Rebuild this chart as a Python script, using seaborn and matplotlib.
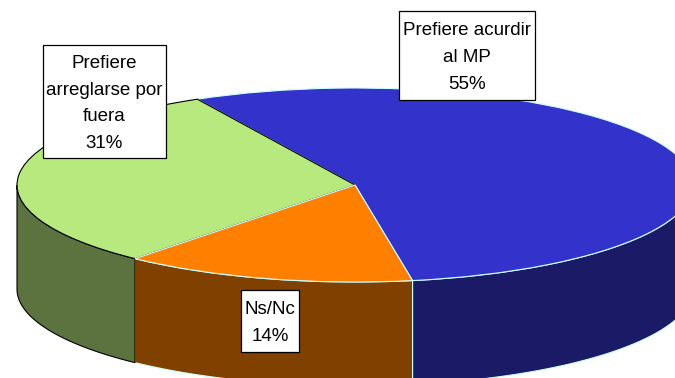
import numpy as np
import matplotlib
matplotlib.use('Agg')
import matplotlib.pyplot as plt
from matplotlib.patches import Rectangle
import seaborn as sns

# data (clockwise from the back of the pie)
labels = ['Prefiere acurdir\nal MP\n55%', 'Ns/Nc\n14%', 'Prefiere\narreglarse por\nfuera\n31%']
values = [55, 14, 31]
top_colors = ['#3333CC', '#FF8000', '#B8E97E']
side_colors = ['#1A1A66', '#804000', '#5C733F']
edge_colors = ['#CCFFFF', '#CCFFFF', '#000000']

sns.set_theme(style='white')
plt.rcParams['font.family'] = ['Liberation Sans', 'DejaVu Sans']

W, H = 675, 378
fig = plt.figure(figsize=(W / 100, H / 100), dpi=100)
ax = fig.add_axes([0, 0, 1, 1])

# ellipse geometry in pixels
cx, cy, rx, ry = 355, 185, 338, 97
depth = 104 / ry
start = 117.8

wedges, _ = ax.pie(values, colors=top_colors, startangle=start, counterclock=False,
                   wedgeprops={'linewidth': 0.8})
for w, ec, z in zip(wedges, edge_colors, [4, 5, 4.5]):
    w.set_edgecolor(ec)
    w.set_zorder(z)

# pie is squashed into an ellipse, the axes fill the figure
ax.set_aspect('auto')
ax.set_xlim(-cx / rx, (W - cx) / rx)
ax.set_ylim(-(H - cy) / ry, cy / ry)
ax.axis('off')

# side wall, only the front half shows
shares = np.array(values) / sum(values) * 360
a = start
for share, col, ec in zip(shares, side_colors, edge_colors):
    a1, a0 = a, a - share
    a = a0
    t = np.radians(np.linspace(a0, a1, 200))
    t = t[np.sin(t) <= 0]
    if len(t) == 0:
        continue
    x = np.cos(t)
    y = np.sin(t)
    ax.fill(np.r_[x, x[::-1]], np.r_[y, y[::-1] - depth], facecolor=col, edgecolor=ec,
            linewidth=0.8, zorder=2)

# white label boxes (left, top, right, bottom in pixels)
boxes = [(399, 11, 535, 100), (241, 290, 299, 352), (43, 45, 166, 158)]
for text, (x0, y0, x1, y1) in zip(labels, boxes):
    fig.add_artist(Rectangle((x0 / W, 1 - y1 / H), (x1 - x0) / W, (y1 - y0) / H, transform=fig.transFigure,
                             facecolor='white', edgecolor='black', linewidth=0.9, zorder=9))
    fig.text((x0 + x1) / 2 / W, 1 - ((y0 + y1) / 2 + 2) / H, text, ha='center', va='center', fontsize=13.5,
             linespacing=1.76, color='black', zorder=10)

plt.savefig('out.png', dpi=100)
